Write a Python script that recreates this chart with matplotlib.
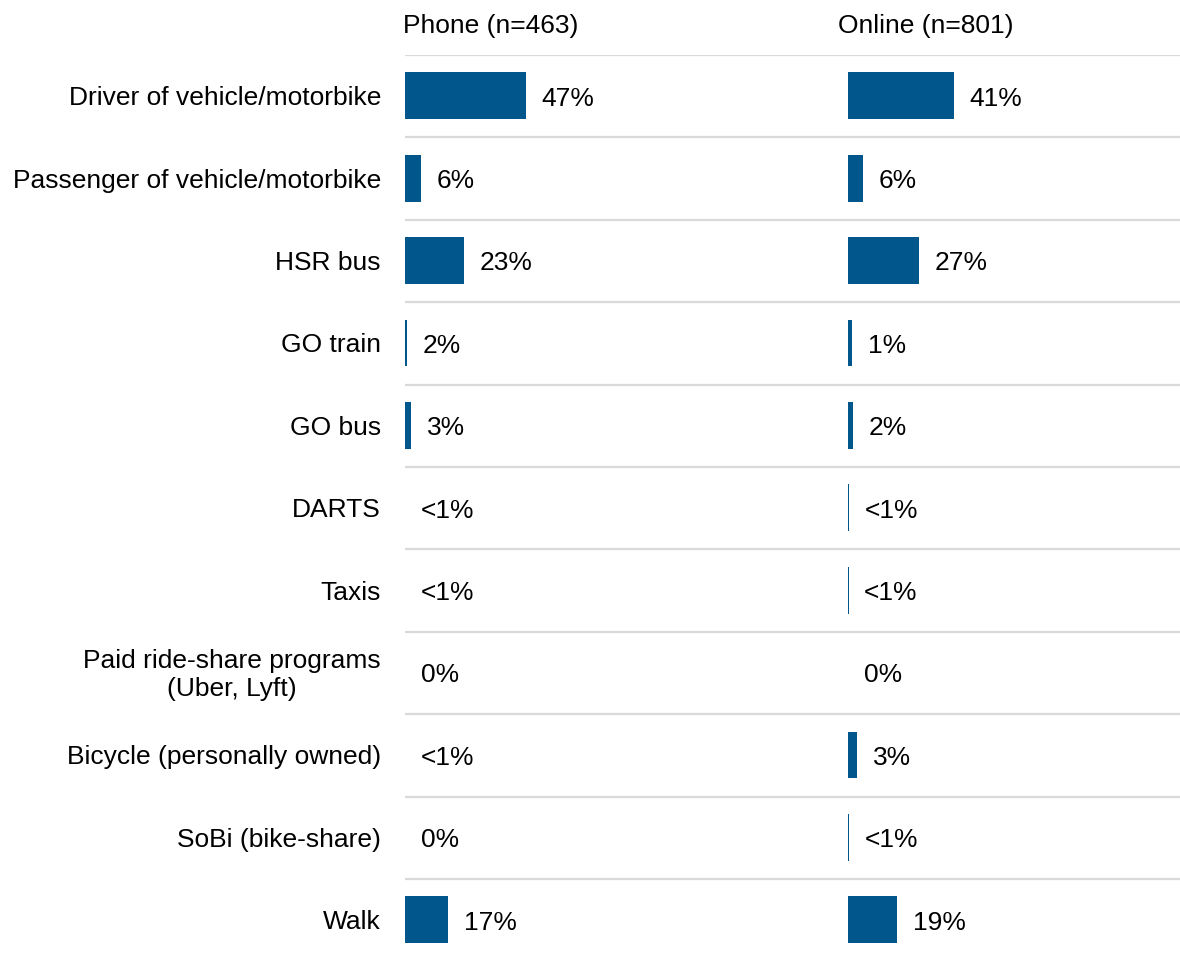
import numpy as np
import matplotlib
matplotlib.use('Agg')
import matplotlib.pyplot as plt

plt.rcParams['font.family'] = ['Liberation Sans', 'DejaVu Sans']

categories = ['Driver of vehicle/motorbike', 'Passenger of vehicle/motorbike', 'HSR bus',
              'GO train', 'GO bus', 'DARTS', 'Taxis',
              'Paid ride-share programs\n(Uber, Lyft)', 'Bicycle (personally owned)',
              'SoBi (bike-share)', 'Walk']

# bar lengths (%) as drawn, and printed labels
phone_vals = [46.8, 6.2, 23.0, 0.8, 2.4, 0.0, 0.0, 0.0, 0.0, 0.0, 16.7]
phone_labels = ['47%', '6%', '23%', '2%', '3%', '<1%', '<1%', '0%', '<1%', '0%', '17%']
online_vals = [41.2, 5.8, 27.5, 1.7, 2.0, 0.4, 0.2, 0.0, 3.5, 0.5, 19.0]
online_labels = ['41%', '6%', '27%', '1%', '2%', '<1%', '<1%', '0%', '3%', '<1%', '19%']

panel_titles = ['Phone (n=463)', 'Online (n=801)']

BAR = '#01578B'
GRID = '#d9d9d9'
FS = 19
W, H = 1180, 956
PX_PER_PCT = 2.58

fig = plt.figure(figsize=(W / 100, H / 100), dpi=100)


def px_axes(x0, x1, y0, y1):
    return fig.add_axes([x0 / W, 1 - y1 / H, (x1 - x0) / W, (y1 - y0) / H])


n = len(categories)
top, row_h = 55, 82.4
bottom = top + n * row_h
y = np.arange(n)

# separator lines across both panels
bg = px_axes(405, 1180, top, bottom)
bg.set_ylim(n - 0.5, -0.5)
bg.set_xlim(0, 1)
for i in range(n):
    bg.axhline(i - 0.5, color=GRID, lw=1.6)
bg.axis('off')

panels = [(405, 828, phone_vals, phone_labels), (848, 1180, online_vals, online_labels)]
axes = []
for x0, x1, vals, labs in panels:
    ax = px_axes(x0, x1, top, bottom)
    ax.patch.set_alpha(0)
    ax.barh(y - 0.005, vals, height=0.57, color=BAR, linewidth=0)
    ax.set_ylim(n - 0.5, -0.5)
    ax.set_xlim(0, (x1 - x0) / PX_PER_PCT)
    for yi, v, lab in zip(y, vals, labs):
        ax.annotate(lab, xy=(v, yi), xytext=(11.2, -1.8), textcoords='offset points',
                    ha='left', va='center', fontsize=FS, color='black')
    ax.axis('off')
    axes.append(ax)

for yi, cat in zip(y, categories):
    axes[0].annotate(cat, xy=(0, yi), xytext=(-17.3, -1.5), textcoords='offset points',
                     ha='right', va='center', multialignment='center',
                     fontsize=FS, color='black', linespacing=1.2)

fig.text(403 / W, 1 - 26 / H, panel_titles[0], ha='left', va='center', fontsize=FS)
fig.text(838 / W, 1 - 26 / H, panel_titles[1], ha='left', va='center', fontsize=FS)

fig.savefig('out.png', dpi=100)
